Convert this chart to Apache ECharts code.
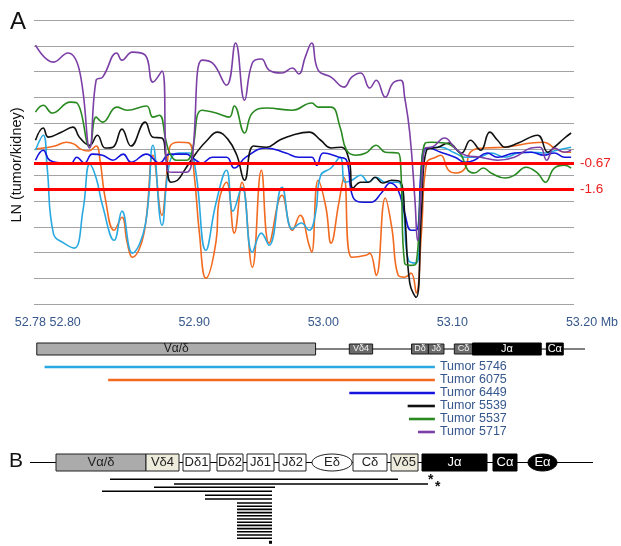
<!DOCTYPE html>
<html><head><meta charset="utf-8">
<script src="https://cdn.jsdelivr.net/npm/echarts@6/dist/echarts.min.js"></script>
<style>html,body{margin:0;padding:0;background:#fff}#c{width:621px;height:546px}</style>
</head><body><div id="c"></div>
<script>
// ---------- data ----------
const X_TICKS = [52.78, 52.80, 52.90, 53.00, 53.10, 53.20];
const THRESHOLDS = [-0.67, -1.6];
const TUMORS = ['Tumor 5746', 'Tumor 6075', 'Tumor 6449', 'Tumor 5539', 'Tumor 5537', 'Tumor 5717'];
const TUMOR_COLORS = ['#29a9e1', '#f26a1f', '#1414dc', '#111111', '#2a8a22', '#7b3fa6'];

const T5746 = [[52.777,-0.20],[52.783,0.34],[52.786,-0.80],[52.791,-3.22],[52.799,-3.54],[52.807,-3.72],[52.814,-2.30],[52.819,-0.70],[52.824,-1.20],[52.829,-2.20],[52.838,-3.44],[52.844,-2.39],[52.852,-3.90],[52.862,-2.90],[52.868,-0.02],[52.875,-2.90],[52.881,-0.63],[52.888,-0.30],[52.896,-0.30],[52.901,-0.92],[52.909,-3.80],[52.917,-2.07],[52.925,-0.92],[52.930,-2.39],[52.937,-1.53],[52.945,-3.87],[52.952,-3.18],[52.958,-3.62],[52.968,-1.53],[52.976,-3.04],[52.983,-2.82],[52.989,-3.08],[52.994,-2.46],[52.998,-1.10],[53.006,-0.84],[53.013,-0.45],[53.017,-1.35],[53.022,-1.28],[53.029,-1.10],[53.035,-1.35],[53.041,-1.17],[53.048,-1.35],[53.058,-1.35],[53.062,-2.25],[53.066,-4.16],[53.072,-4.26],[53.077,-0.45],[53.083,-0.09],[53.091,-0.09],[53.102,-0.30],[53.110,-0.45],[53.120,-0.45],[53.130,-0.30],[53.141,-0.45],[53.151,-0.30],[53.161,-0.27],[53.171,-0.30],[53.181,-0.20],[53.192,-0.09]];
const T6075 = [[52.777,-0.16],[52.783,-0.12],[52.792,-0.05],[52.801,0.09],[52.807,0.02],[52.812,-0.16],[52.818,-0.23],[52.824,-0.05],[52.827,-0.56],[52.831,-1.92],[52.838,-3.08],[52.844,-2.61],[52.848,-3.51],[52.852,-4.05],[52.861,-3.20],[52.868,-0.38],[52.875,-2.54],[52.878,-1.49],[52.881,-0.09],[52.888,0.09],[52.896,0.06],[52.900,-1.10],[52.904,-3.18],[52.909,-4.80],[52.917,-3.44],[52.919,-2.07],[52.925,-1.35],[52.931,-3.18],[52.937,-1.35],[52.945,-4.41],[52.952,-0.92],[52.958,-3.54],[52.968,-1.82],[52.976,-3.08],[52.982,-2.54],[52.989,-3.62],[52.991,-3.87],[52.996,-1.28],[53.002,-2.25],[53.006,-3.54],[53.012,-2.10],[53.016,-1.17],[53.022,-4.05],[53.033,-3.98],[53.036,-3.90],[53.041,-4.70],[53.048,-1.92],[53.053,-2.97],[53.058,-4.70],[53.063,-4.77],[53.068,-4.62],[53.072,-5.34],[53.076,-3.18],[53.080,-0.66],[53.087,-0.45],[53.091,-0.38],[53.097,-0.92],[53.103,-1.02],[53.110,-0.84],[53.114,-0.27],[53.125,-0.12],[53.141,-0.09],[53.161,0.06],[53.171,0.09],[53.179,-0.12],[53.187,-0.27],[53.192,-0.27]];
const T6449 = [[52.777,-0.56],[52.783,-0.20],[52.788,-0.56],[52.797,-0.66],[52.804,-0.70],[52.809,-0.45],[52.815,-0.66],[52.821,-0.34],[52.829,-0.38],[52.837,-0.56],[52.845,-0.34],[52.851,-0.63],[52.863,-0.34],[52.873,-0.66],[52.881,-0.34],[52.894,-0.34],[52.898,-0.45],[52.906,-0.66],[52.914,-0.45],[52.925,-0.45],[52.931,-0.84],[52.940,-0.45],[52.956,-0.12],[52.971,-0.30],[52.981,-0.45],[52.991,-0.45],[52.995,-0.74],[53.000,-0.30],[53.012,-0.45],[53.018,-0.56],[53.023,-1.89],[53.031,-2.07],[53.037,-2.07],[53.045,-1.74],[53.052,-1.38],[53.058,-1.64],[53.063,-2.46],[53.068,-3.08],[53.072,-3.08],[53.077,-0.30],[53.081,-0.12],[53.091,-0.27],[53.102,-0.45],[53.110,-0.63],[53.117,-0.56],[53.127,-0.30],[53.135,-0.45],[53.148,-0.30],[53.161,-0.27],[53.171,-0.38],[53.179,-0.30],[53.187,-0.45],[53.192,-0.45]];
const T5539 = [[52.777,0.16],[52.783,0.60],[52.787,0.27],[52.797,0.45],[52.806,0.63],[52.811,0.27],[52.819,-0.02],[52.825,0.34],[52.831,-0.12],[52.837,-0.09],[52.844,0.56],[52.851,-0.05],[52.862,0.81],[52.868,0.27],[52.875,0.24],[52.878,-0.45],[52.882,-1.35],[52.887,-1.28],[52.892,-0.95],[52.902,-0.27],[52.910,0.16],[52.918,0.45],[52.926,0.20],[52.933,-0.38],[52.939,-1.28],[52.946,-0.05],[52.956,-0.09],[52.966,0.16],[52.976,0.34],[52.989,0.45],[52.998,0.16],[53.006,-0.12],[53.014,-0.09],[53.020,-0.56],[53.023,-1.56],[53.029,-1.35],[53.035,-1.35],[53.040,-1.17],[53.046,-1.38],[53.053,-1.28],[53.060,-1.35],[53.063,-2.46],[53.067,-4.98],[53.072,-5.49],[53.076,-2.46],[53.080,-0.20],[53.089,-0.09],[53.097,0.06],[53.107,-0.30],[53.114,0.16],[53.122,-0.20],[53.129,0.45],[53.135,0.16],[53.141,-0.09],[53.151,0.06],[53.166,0.34],[53.174,-0.27],[53.179,-0.09],[53.187,0.24],[53.192,0.42]];
const T5537 = [[52.777,1.17],[52.783,1.42],[52.790,1.14],[52.804,1.53],[52.809,1.50],[52.819,-0.09],[52.824,0.99],[52.829,0.81],[52.840,1.35],[52.848,1.24],[52.863,1.39],[52.868,0.99],[52.873,1.06],[52.878,0.16],[52.881,-0.30],[52.886,-0.56],[52.894,-0.56],[52.898,-0.30],[52.906,1.24],[52.917,1.14],[52.927,0.99],[52.931,1.39],[52.939,0.42],[52.945,1.14],[52.956,1.32],[52.976,1.24],[52.991,1.50],[52.996,1.35],[53.006,1.35],[53.013,0.63],[53.018,-0.20],[53.025,-0.38],[53.033,-0.30],[53.041,-0.02],[53.048,-0.27],[53.058,-0.30],[53.060,-0.81],[53.063,-4.26],[53.068,-4.34],[53.072,-4.26],[53.075,-1.99],[53.079,0.06],[53.084,0.09],[53.094,0.06],[53.102,-0.12],[53.107,-0.38],[53.112,-0.92],[53.117,-1.02],[53.124,-0.84],[53.130,-1.02],[53.141,-1.20],[53.148,-1.10],[53.157,-0.81],[53.166,-1.02],[53.172,-1.35],[53.179,-0.84],[53.187,-0.74],[53.192,-0.84]];
const T5717 = [[52.777,3.58],[52.791,2.97],[52.802,3.30],[52.811,2.68],[52.819,-0.12],[52.824,2.32],[52.829,2.43],[52.840,3.30],[52.844,3.04],[52.852,3.33],[52.862,3.22],[52.868,2.25],[52.875,2.65],[52.879,-0.92],[52.883,-0.99],[52.894,-0.99],[52.898,-0.66],[52.906,3.04],[52.914,2.94],[52.925,2.14],[52.932,3.66],[52.939,1.60],[52.945,2.94],[52.952,3.08],[52.958,2.68],[52.968,2.58],[52.976,2.76],[52.981,2.54],[52.986,3.15],[52.991,3.66],[52.996,2.68],[53.006,2.43],[53.016,2.07],[53.022,2.43],[53.029,2.58],[53.036,2.04],[53.041,2.32],[53.048,1.71],[53.054,2.22],[53.060,2.32],[53.063,1.71],[53.067,0.42],[53.071,-1.99],[53.073,-3.44],[53.077,-0.81],[53.079,-0.12],[53.084,-0.09],[53.094,0.24],[53.102,-0.12],[53.110,-0.38],[53.122,-0.45],[53.135,-0.56],[53.148,-0.45],[53.161,-0.12],[53.168,-0.09],[53.173,-0.56],[53.179,-0.12],[53.187,-0.27],[53.192,-0.20]];
const SERIES_DATA = [T5746, T6075, T6449, T5539, T5537, T5717];

// deleted regions (Mb) per tumour
const DEL_START = [52.784, 52.833, 53.019, 53.064, 53.065, 53.072];
const DEL_END   = [53.085, 53.085, 53.085, 53.085, 53.085, 53.085];

// locus map A (Mb)
const LOCUS_A = [52.778, 53.202];
const GENES_A = ['Vα/δ', 'Vδ4', 'Dδ', 'Jδ', 'Cδ', 'Jα', 'Cα'];
const GENES_A_START = [52.778, 53.019, 53.067, 53.080, 53.100, 53.114, 53.171];
const GENES_A_END   = [52.993, 53.037, 53.080, 53.092, 53.114, 53.167, 53.184];
const GENES_A_KIND  = ['big', 'small', 'small', 'small', 'small', 'black', 'black'];

// schematic B (schematic units)
const LOCUS_B = [30, 593];
const GENES_B = ['Vα/δ', 'Vδ4', 'Dδ1', 'Dδ2', 'Jδ1', 'Jδ2', 'Eδ', 'Cδ', 'Vδ5', 'Jα', 'Cα', 'Eα'];
const GENES_B_START = [56, 146, 183, 217, 247, 279, 312, 353, 391, 422, 493, 528];
const GENES_B_END   = [146, 179, 210, 243, 274, 306, 352, 387, 418, 487, 517, 557];
const GENES_B_KIND  = ['gray', 'beige', 'white', 'white', 'white', 'white', 'ellW', 'white', 'beige', 'black', 'black', 'ellB'];
const B_DEL_START = [110, 174, 154, 102, 205, 205, 237, 237, 237, 237, 237, 237, 237, 237, 237, 237, 237, 237, 269];
const B_DEL_END   = [398, 428, 275, 272, 272, 272, 272, 272, 272, 272, 272, 272, 272, 272, 272, 272, 272, 272, 272];
const B_DEL_ROW   = [39.3, 44, 47.3, 51.3, 55.3, 59, 63, 66.2, 69.4, 72.6, 75.8, 79, 82.2, 85.4, 88.6, 91.8, 95, 98.2, 102.3];

// ---------- chart ----------
const FONT = '"Liberation Sans", Arial, Helvetica, sans-serif';
const AXIS_BLUE = '#36578c';
const YMIN = -5.742, YMAX = 4.485;
const XMIN = 52.776, XMAX = 53.20;
const PLOT_LEFT = 34.2, PLOT_W = 549.8;

const GENE_A_STYLE = {
  big:   {h: 12, fill: '#ababab', stroke: '#1a1a1a', text: '#1a1a1a', size: 12},
  small: {h: 10, fill: '#6a6a6a', stroke: '#1a1a1a', text: '#f2f2f2', size: 9},
  black: {h: 12, fill: '#000000', stroke: '#000000', text: '#ffffff', size: 11}
};
const GENE_B_STYLE = {
  gray:  {fill: '#ababab', stroke: '#222', text: '#222'},
  beige: {fill: '#ecebdc', stroke: '#222', text: '#222'},
  white: {fill: '#ffffff', stroke: '#222', text: '#222'},
  ellW:  {fill: '#ffffff', stroke: '#222', text: '#222'},
  black: {fill: '#000000', stroke: '#000', text: '#fff'},
  ellB:  {fill: '#000000', stroke: '#000', text: '#fff'}
};

const chart = echarts.init(document.getElementById('c'));

const dataSeries = SERIES_DATA.map((d, i) => ({
  name: TUMORS[i], type: 'line', xAxisIndex: 1, yAxisIndex: 2,
  data: d, smooth: 0.45, symbol: 'none', clip: false, z: 3,
  lineStyle: {color: TUMOR_COLORS[i], width: 1.6}
}));
const order = [1, 0, 2, 3, 4, 5];
const orderedData = order.map(i => dataSeries[i]);

const tumorSeries = TUMORS.map((t, i) => ({
  name: t, type: 'line', xAxisIndex: 3, yAxisIndex: 4, symbol: 'none', clip: false,
  data: [[DEL_START[i], i], [DEL_END[i], i]],
  lineStyle: {color: TUMOR_COLORS[i], width: 2.6},
  endLabel: {show: true, formatter: '{a}', color: AXIS_BLUE, fontSize: 12.5, fontFamily: FONT, distance: 5}
}));

function renderGeneA(params, api) {
  const i = params.dataIndex;
  const p0 = api.coord([api.value(0), 0.5]);
  const p1 = api.coord([api.value(1), 0.5]);
  const st = GENE_A_STYLE[GENES_A_KIND[i]];
  return {
    type: 'rect',
    shape: {x: p0[0], y: p0[1] - st.h / 2, width: p1[0] - p0[0], height: st.h},
    style: {fill: st.fill, stroke: st.stroke, lineWidth: 1},
    textContent: {style: {text: GENES_A[i], fill: st.text, font: st.size + 'px ' + FONT}},
    textConfig: {position: 'inside'}
  };
}
function renderGeneB(params, api) {
  const i = params.dataIndex;
  const p0 = api.coord([api.value(0), 22.5]);
  const p1 = api.coord([api.value(1), 22.5]);
  const kind = GENES_B_KIND[i];
  const st = GENE_B_STYLE[kind];
  const h = 17;
  const text = {style: {text: GENES_B[i], fill: st.text, font: '13px ' + FONT}};
  if (kind === 'ellW' || kind === 'ellB') {
    return {
      type: 'ellipse',
      shape: {cx: (p0[0] + p1[0]) / 2, cy: p0[1], rx: (p1[0] - p0[0]) / 2, ry: h / 2},
      style: {fill: st.fill, stroke: st.stroke, lineWidth: 1},
      textContent: text, textConfig: {position: 'inside'}
    };
  }
  return {
    type: 'rect',
    shape: {x: p0[0], y: p0[1] - h / 2, width: p1[0] - p0[0], height: h},
    style: {fill: st.fill, stroke: st.stroke, lineWidth: 1},
    textContent: text, textConfig: {position: 'inside'}
  };
}
function renderBDel(params, api) {
  const i = params.dataIndex;
  const p0 = api.coord([api.value(0), api.value(2)]);
  const p1 = api.coord([api.value(1), api.value(2)]);
  const h = i === B_DEL_START.length - 1 ? 3 : 1.6;
  return {type: 'rect', shape: {x: p0[0], y: p0[1] - h / 2, width: p1[0] - p0[0], height: h}, style: {fill: '#000'}};
}

const option = {
  animation: false,
  backgroundColor: '#ffffff',
  textStyle: {fontFamily: FONT},
  grid: [
    {left: 34, width: 540, top: 20, height: 284.3},
    {left: PLOT_LEFT, width: PLOT_W, top: 20, height: 284.3},
    {left: PLOT_LEFT, width: PLOT_W, top: 343, height: 12},
    {left: PLOT_LEFT, width: PLOT_W, top: 360.5, height: 78},
    {left: 0, width: 621, top: 440, height: 106}
  ],
  xAxis: [
    {gridIndex: 0, type: 'value', min: 0, max: 1, show: false},
    {gridIndex: 1, type: 'value', min: XMIN, max: XMAX,
      axisLine: {show: false}, axisTick: {show: false}, splitLine: {show: false},
      axisLabel: {
        customValues: X_TICKS, margin: 12, color: AXIS_BLUE, fontSize: 12.5, fontFamily: FONT,
        formatter: v => {
          const s = v.toFixed(2);
          if (s === '52.78') return '{l|52.78}';
          if (s === '53.20') return '{r|53.20 Mb}';
          return s;
        },
        rich: {
          l: {padding: [0, 18, 0, 0], color: AXIS_BLUE, fontSize: 12.5, fontFamily: FONT},
          r: {padding: [0, 0, 0, 21], color: AXIS_BLUE, fontSize: 12.5, fontFamily: FONT}
        }
      }},
    {gridIndex: 2, type: 'value', min: XMIN, max: XMAX, show: false},
    {gridIndex: 3, type: 'value', min: XMIN, max: XMAX, show: false},
    {gridIndex: 4, type: 'value', min: 0, max: 621, show: false}
  ],
  yAxis: [
    {gridIndex: 0, type: 'value', min: 0, max: 11, interval: 1,
      axisLine: {show: false}, axisTick: {show: false}, axisLabel: {show: false},
      splitLine: {show: true, lineStyle: {color: '#a3a3a3', width: 1.2}}},
    {gridIndex: 0, type: 'value', min: YMIN, max: YMAX, show: false},
    {gridIndex: 1, type: 'value', min: YMIN, max: YMAX, show: false},
    {gridIndex: 2, type: 'value', min: 0, max: 1, show: false},
    {gridIndex: 3, type: 'value', min: -0.5, max: 5.5, inverse: true, show: false},
    {gridIndex: 4, type: 'value', min: 0, max: 106, inverse: true, show: false}
  ],
  series: [
    ...orderedData,
    {
      name: 'thresholds', type: 'line', xAxisIndex: 0, yAxisIndex: 1, data: [], z: 6,
      markLine: {
        silent: true, symbol: ['none', 'none'], animation: false,
        lineStyle: {color: '#ff0000', width: 3, type: 'solid'},
        label: {show: true, position: 'end', formatter: '{b}', color: '#ee1c1c', fontSize: 13.5, fontFamily: FONT, distance: 6},
        data: THRESHOLDS.map(v => ({yAxis: v, name: String(v)}))
      }
    },
    {
      name: 'locusA', type: 'line', xAxisIndex: 2, yAxisIndex: 3, symbol: 'none', clip: false, z: 2,
      data: [[LOCUS_A[0], 0.5], [LOCUS_A[1], 0.5]], lineStyle: {color: '#000', width: 1}
    },
    {
      name: 'genesA', type: 'custom', xAxisIndex: 2, yAxisIndex: 3, clip: false, z: 4,
      data: GENES_A_START.map((s, i) => [s, GENES_A_END[i]]),
      renderItem: renderGeneA
    },
    ...tumorSeries,
    {
      name: 'locusB', type: 'line', xAxisIndex: 4, yAxisIndex: 5, symbol: 'none', clip: false, z: 2,
      data: [[LOCUS_B[0], 22.5], [LOCUS_B[1], 22.5]], lineStyle: {color: '#000', width: 1.2}
    },
    {
      name: 'genesB', type: 'custom', xAxisIndex: 4, yAxisIndex: 5, clip: false, z: 4,
      data: GENES_B_START.map((s, i) => [s, GENES_B_END[i]]),
      renderItem: renderGeneB
    },
    {
      name: 'deletionsB', type: 'custom', xAxisIndex: 4, yAxisIndex: 5, clip: false, z: 4,
      data: B_DEL_START.map((s, i) => [s, B_DEL_END[i], B_DEL_ROW[i]]),
      renderItem: renderBDel
    }
  ],
  graphic: [
    {type: 'text', left: 10, top: 10, style: {text: 'A', font: '24px ' + FONT, fill: '#111'}},
    {type: 'text', left: 9, top: 451, style: {text: 'B', font: '21px ' + FONT, fill: '#111'}},
    {type: 'text', x: 17, y: 165, rotation: Math.PI / 2,
      style: {text: 'LN (tumor/kidney)', font: '14.5px ' + FONT, fill: '#111', align: 'center', verticalAlign: 'middle'}},
    {type: 'text', x: 428, y: 473, style: {text: '*', font: 'bold 14px ' + FONT, fill: '#111'}},
    {type: 'text', x: 435, y: 480, style: {text: '*', font: 'bold 14px ' + FONT, fill: '#111'}}
  ]
};
chart.setOption(option);
</script>
</body></html>
